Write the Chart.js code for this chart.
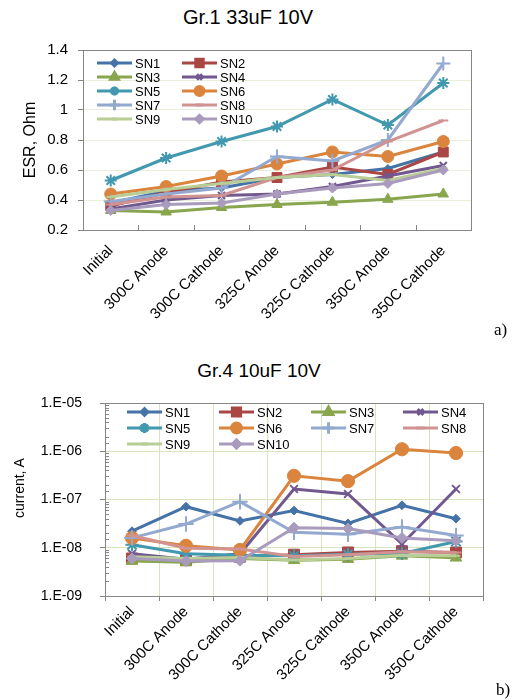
<!DOCTYPE html>
<html>
<head>
<meta charset="utf-8">
<script src="https://cdn.jsdelivr.net/npm/chart.js@4.4.1/dist/chart.umd.min.js"></script>
<style>
  body { margin: 0; background: #fff; width: 519px; height: 700px; position: relative; overflow: hidden;
         font-family: "Liberation Sans", Arial, sans-serif; }
  canvas { position: absolute; left: 0; }
  #esr { top: 0; }
  #leak { top: 350px; }
  .title { position: absolute; left: 0; text-align: center; line-height: 1; color: #000; }
  .ytitle { position: absolute; width: 120px; text-align: center; font-size: 14px; line-height: 14px;
            transform: rotate(-90deg); transform-origin: 50% 50%; }
  .tag { position: absolute; font-family: "Liberation Serif", "Times New Roman", serif; font-size: 17px; line-height: 1; }
</style>
</head>
<body>
<div class="title" style="top:7px;width:496px;font-size:20px">Gr.1 33uF 10V</div>
<canvas id="esr" width="519" height="345"></canvas>
<div class="tag" style="left:494px;top:321px">a)</div>

<div class="title" style="top:361px;width:518px;font-size:19px">Gr.4 10uF 10V</div>
<canvas id="leak" width="519" height="350"></canvas>
<div class="ytitle" style="left:-41px;top:481px">current, A</div>
<div class="tag" style="left:496px;top:681px">b)</div>

<script>
const steps = ['Initial', '300C Anode', '300C Cathode', '325C Anode', '325C Cathode', '350C Anode', '350C Cathode'];
const seriesNames = ['SN1', 'SN2', 'SN3', 'SN4', 'SN5', 'SN6', 'SN7', 'SN8', 'SN9', 'SN10'];

// ESR, Ohm
const esrSN1  = [0.38, 0.46, 0.48, 0.55, 0.57, 0.61, 0.72];
const esrSN2  = [0.36, 0.45, 0.52, 0.55, 0.62, 0.57, 0.72];
const esrSN3  = [0.33, 0.32, 0.35, 0.37, 0.385, 0.405, 0.44];
const esrSN4  = [0.34, 0.40, 0.43, 0.44, 0.49, 0.56, 0.63];
const esrSN5  = [0.53, 0.68, 0.79, 0.89, 1.07, 0.90, 1.18];
const esrSN6  = [0.44, 0.49, 0.56, 0.64, 0.72, 0.69, 0.79];
const esrSN7  = [0.39, 0.44, 0.48, 0.69, 0.66, 0.80, 1.31];
const esrSN8  = [0.37, 0.42, 0.43, 0.55, 0.60, 0.79, 0.93];
const esrSN9  = [0.42, 0.47, 0.51, 0.55, 0.57, 0.53, 0.61];
const esrSN10 = [0.33, 0.37, 0.38, 0.44, 0.48, 0.51, 0.60];
const esrTicks = [0.2, 0.4, 0.6, 0.8, 1, 1.2, 1.4];

// leakage current, A
const dclSN1  = [2.2e-8, 7.1e-8, 3.6e-8, 5.9e-8, 3.2e-8, 7.6e-8, 4.0e-8];
const dclSN2  = [6.0e-9, 5.5e-9, 6.5e-9, 7.2e-9, 8.0e-9, 8.5e-9, 8.0e-9];
const dclSN3  = [5.3e-9, 5.0e-9, 6.0e-9, 5.5e-9, 5.8e-9, 6.8e-9, 6.2e-9];
const dclSN4  = [7.5e-9, 5.8e-9, 7.5e-9, 1.65e-7, 1.3e-7, 1.2e-8, 1.65e-7];
const dclSN5  = [1.15e-8, 7.5e-9, 7.0e-9, 6.8e-9, 7.3e-9, 7.6e-9, 1.35e-8];
const dclSN6  = [1.6e-8, 1.1e-8, 9.0e-9, 3.1e-7, 2.4e-7, 1.1e-6, 9.2e-7];
const dclSN7  = [1.6e-8, 3.1e-8, 9.0e-8, 2.1e-8, 1.9e-8, 2.7e-8, 1.8e-8];
const dclSN8  = [1.8e-8, 9.8e-9, 9.4e-9, 6.6e-9, 7.2e-9, 8.3e-9, 8.0e-9];
const dclSN9  = [6.5e-9, 6.0e-9, 6.3e-9, 5.6e-9, 6.0e-9, 7.0e-9, 6.8e-9];
const dclSN10 = [6.0e-9, 5.3e-9, 5.4e-9, 2.6e-8, 2.5e-8, 1.6e-8, 1.4e-8];
const dclMin = 1e-9;
const dclMax = 1e-5;

const palette = ['#4572A7', '#AA4643', '#89A54E', '#71588F', '#4198AF', '#DB843D', '#93A9CF', '#D19392', '#B9CD96', '#A99BBD'];
const markers = [
  { style: 'rectRot', r: 4 }, { style: 'rect', r: 7 }, { style: 'triangle', r: 6 }, { style: 'crossRot', r: 5 },
  { style: 'star', r: 6 }, { style: 'circle', r: 6 }, { style: 'cross', r: 7 }, { style: 'line', r: 5 },
  { style: 'line', r: 4 }, { style: 'rectRot', r: 5 }
];
const axisGray = '#868686';
const font = '"Liberation Sans", Arial, sans-serif';

function makeSets(series, grow) {
  return series.map((data, i) => {
    const m = markers[i];
    const open = ['crossRot', 'star', 'cross', 'line'].includes(m.style);
    return {
      label: seriesNames[i],
      data,
      borderColor: palette[i],
      backgroundColor: palette[i],
      pointBackgroundColor: open ? 'rgba(0,0,0,0)' : palette[i],
      borderWidth: 3,
      pointStyle: m.style,
      pointRadius: m.r * grow,
      pointHoverRadius: m.r * grow,
      pointBorderWidth: open ? 2 : 1,
      order: series.length - i
    };
  });
}

const isDecade = v => Math.abs(Math.log10(v) - Math.round(Math.log10(v))) < 1e-6;

// frame round the plot, small inner ticks and a two-way legend inside the plot
const decor = {
  id: 'decor',
  beforeDatasetsDraw(chart, args, opts) {
    const { ctx, chartArea: a } = chart;
    ctx.save();
    ctx.strokeStyle = axisGray;
    ctx.lineWidth = 1;
    ctx.strokeRect(a.left + 0.5, a.top + 0.5, a.right - a.left, a.bottom - a.top);
    if (opts.bandTicks) {
      const x = chart.scales.x;
      const half = (x.getPixelForTick(1) - x.getPixelForTick(0)) / 2;
      ctx.beginPath();
      for (let i = 1; i < steps.length; i++) {
        const px = Math.round(x.getPixelForTick(i) - half) + 0.5;
        ctx.moveTo(px, a.bottom);
        ctx.lineTo(px, a.bottom - 5);
      }
      ctx.stroke();
    }
    if (opts.minorLog) {
      const y = chart.scales.y;
      ctx.beginPath();
      y.ticks.forEach(t => {
        if (isDecade(t.value)) return;
        const py = Math.round(y.getPixelForValue(t.value)) + 0.5;
        ctx.moveTo(a.left, py);
        ctx.lineTo(a.left + 4, py);
      });
      ctx.stroke();
    }
    ctx.restore();
  },
  afterDatasetsDraw(chart, args, opts) {
    const k = opts.key;
    if (!k) return;
    const { ctx, chartArea: a } = chart;
    ctx.save();
    ctx.font = k.fontSize + 'px ' + font;
    ctx.textBaseline = 'middle';
    ctx.textAlign = 'left';
    chart.data.datasets.forEach((ds, i) => {
      const x0 = a.left + k.x + (i % k.cols) * k.colW;
      const y0 = a.top + k.y + Math.floor(i / k.cols) * k.rowH;
      ctx.strokeStyle = ds.borderColor;
      ctx.lineWidth = ds.borderWidth;
      ctx.beginPath();
      ctx.moveTo(x0, y0);
      ctx.lineTo(x0 + k.lineLen, y0);
      ctx.stroke();
      ctx.fillStyle = ds.pointBackgroundColor;
      Chart.helpers.drawPoint(ctx, {
        pointStyle: ds.pointStyle,
        radius: ds.pointRadius * 0.75,
        borderWidth: ds.pointBorderWidth,
        rotation: 0
      }, x0 + k.lineLen / 2, y0);
      ctx.fillStyle = '#000';
      ctx.fillText(ds.label, x0 + k.lineLen + 3, y0 + 1);
    });
    ctx.restore();
  }
};

new Chart(document.getElementById('esr'), {
  type: 'line',
  data: {
    labels: steps,
    datasets: makeSets([esrSN1, esrSN2, esrSN3, esrSN4, esrSN5, esrSN6, esrSN7, esrSN8, esrSN9, esrSN10], 1)
  },
  plugins: [decor],
  options: {
    responsive: false,
    animation: false,
    events: [],
    layout: { padding: { top: 50, right: 48, left: 0, bottom: 0 } },
    plugins: {
      legend: { display: false },
      tooltip: { enabled: false },
      decor: { bandTicks: true, key: { x: 14, y: 13, cols: 2, colW: 85, rowH: 14, lineLen: 35, fontSize: 13 } }
    },
    scales: {
      x: {
        offset: true,
        afterFit: s => { s.height = 115; },
        grid: { display: false },
        border: { color: axisGray },
        ticks: { color: '#000', font: { family: font, size: 15 }, maxRotation: 45, minRotation: 45, autoSkip: false, padding: 4 }
      },
      y: {
        min: esrTicks[0],
        max: esrTicks[esrTicks.length - 1],
        afterFit: s => { s.width = 83; },
        afterBuildTicks: s => { s.ticks = esrTicks.map(v => ({ value: v })); },
        border: { color: axisGray },
        grid: { color: '#E9EFDB', tickColor: axisGray, tickLength: 5 },
        ticks: { color: '#000', font: { family: font, size: 15 }, padding: 10, callback: v => String(+v.toFixed(1)) },
        title: { display: true, text: 'ESR, Ohm', color: '#000', font: { family: font, size: 16 }, padding: { top: 21, bottom: 0 } }
      }
    }
  }
});

new Chart(document.getElementById('leak'), {
  type: 'line',
  data: {
    labels: steps,
    datasets: makeSets([dclSN1, dclSN2, dclSN3, dclSN4, dclSN5, dclSN6, dclSN7, dclSN8, dclSN9, dclSN10], 1.1)
  },
  plugins: [decor],
  options: {
    responsive: false,
    animation: false,
    events: [],
    layout: { padding: { top: 53, right: 36, left: 0, bottom: 0 } },
    plugins: {
      legend: { display: false },
      tooltip: { enabled: false },
      decor: { minorLog: true, key: { x: 22, y: 9, cols: 4, colW: 92, rowH: 16, lineLen: 35, fontSize: 13 } }
    },
    scales: {
      x: {
        offset: true,
        afterFit: s => { s.height = 104; },
        grid: { offset: true, color: '#D7E4BD', tickColor: axisGray, tickLength: 5 },
        border: { color: axisGray },
        ticks: { color: '#000', font: { family: font, size: 15 }, maxRotation: 45, minRotation: 45, autoSkip: false, padding: 2 }
      },
      y: {
        type: 'logarithmic',
        min: dclMin,
        max: dclMax,
        afterFit: s => { s.width = 105; },
        border: { color: axisGray },
        grid: {
          color: c => (c.tick && isDecade(c.tick.value)) ? '#D7E4BD' : 'rgba(0,0,0,0)',
          tickColor: c => (c.tick && isDecade(c.tick.value)) ? axisGray : 'rgba(0,0,0,0)',
          tickLength: 5
        },
        ticks: {
          color: '#000',
          autoSkip: false,
          font: { family: font, size: 14 },
          padding: 18,
          callback: v => isDecade(v) ? '1.E-' + String(-Math.round(Math.log10(v))).padStart(2, '0') : ''
        }
      }
    }
  }
});
</script>
</body>
</html>
